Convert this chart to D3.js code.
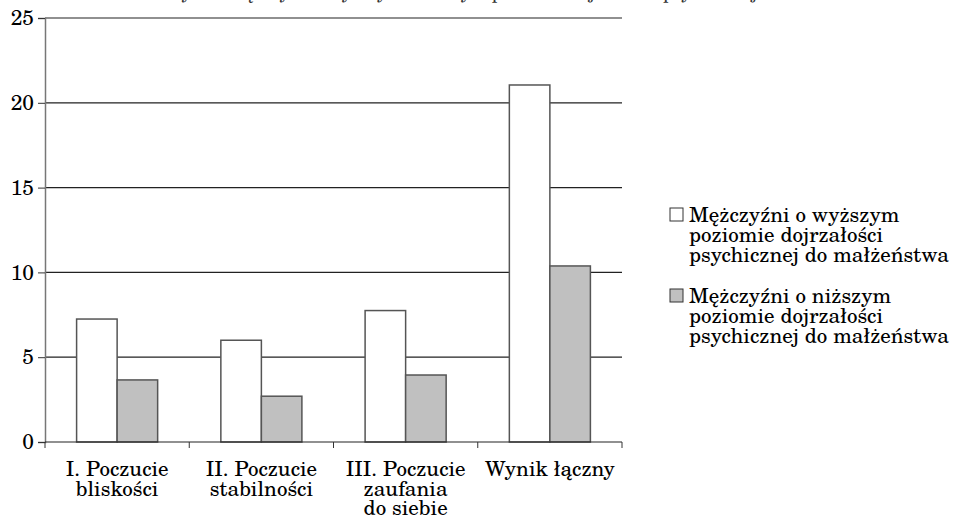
<!DOCTYPE html>
<html>
<head>
<meta charset="utf-8">
<script src="https://cdn.jsdelivr.net/npm/d3@7"></script>
<style>
  body { margin: 0; background: #fff; }
</style>
</head>
<body>
<svg id="chart"></svg>
<script>
const categories = [
  ["I. Poczucie", "bliskości"],
  ["II. Poczucie", "stabilności"],
  ["III. Poczucie", "zaufania", "do siebie"],
  ["Wynik łączny"]
]
const higherMaturity = [7.25, 6.0, 7.75, 21.05]
const lowerMaturity = [3.66, 2.7, 3.95, 10.38]
const seriesNames = [
  ["Mężczyźni o wyższym", "poziomie dojrzałości", "psychicznej do małżeństwa"],
  ["Mężczyźni o niższym", "poziomie dojrzałości", "psychicznej do małżeństwa"]
]
const seriesFill = ["#ffffff", "#c0c0c0"]
const yTicks = [0, 5, 10, 15, 20, 25]
const title = "Średnie wyniki mężczyzn o wyższym i niższym poziomie dojrzałości psychicznej do małżeństwa"

const FONT = '"TeX Gyre Schola", "DejaVu Serif", serif'
const width = 956
const height = 518
const svg = d3.select("#chart").attr("width", width).attr("height", height)

const margin = { left: 45, right: 622, top: 18, bottom: 442 }

const x = d3.scaleBand()
  .domain(d3.range(categories.length))
  .range([margin.left, margin.right])

const inner = d3.scaleBand()
  .domain([0, 1])
  .range([0, x.bandwidth()])
  .paddingOuter(0.78)

const y = d3.scaleLinear()
  .domain([0, 25])
  .range([margin.bottom, margin.top])

// title, cut off at the top edge as in the source
svg.append("text")
  .attr("x", 492)
  .attr("y", -1)
  .attr("text-anchor", "middle")
  .attr("font-family", FONT)
  .attr("font-size", 18)
  .attr("fill", "#333")
  .text(title)

// gridlines
svg.append("g")
  .selectAll("line")
  .data(yTicks.filter(d => d > 0))
  .join("line")
  .attr("x1", margin.left)
  .attr("x2", margin.right)
  .attr("y1", d => y(d))
  .attr("y2", d => y(d))
  .attr("stroke", "#222")
  .attr("stroke-width", 1.2)

// y axis
svg.append("g")
  .attr("transform", `translate(${margin.left},0)`)
  .call(d3.axisLeft(y).tickValues(yTicks).tickSize(7).tickPadding(4))
  .call(g => g.select(".domain").attr("stroke", "#777").attr("stroke-width", 1.5))
  .call(g => g.selectAll(".tick line").attr("stroke", "#333"))
  .call(g => g.selectAll(".tick text")
    .attr("font-family", FONT)
    .attr("font-size", 21)
    .attr("fill", "#000"))

// bars
const groups = svg.append("g")
  .selectAll("g")
  .data(categories.map((c, i) => [higherMaturity[i], lowerMaturity[i]]))
  .join("g")
  .attr("transform", (d, i) => `translate(${x(i)},0)`)

groups.selectAll("rect")
  .data(d => d)
  .join("rect")
  .attr("x", (d, j) => inner(j))
  .attr("width", inner.bandwidth())
  .attr("y", d => y(d))
  .attr("height", d => y(0) - y(d))
  .attr("fill", (d, j) => seriesFill[j])
  .attr("stroke", "#555")
  .attr("stroke-width", 1.5)

// x axis line and category ticks
svg.append("line")
  .attr("x1", margin.left)
  .attr("x2", margin.right)
  .attr("y1", margin.bottom)
  .attr("y2", margin.bottom)
  .attr("stroke", "#222")
  .attr("stroke-width", 1.2)

svg.append("g")
  .selectAll("line")
  .data(d3.range(categories.length + 1))
  .join("line")
  .attr("x1", i => i < categories.length ? x(i) : margin.right)
  .attr("x2", i => i < categories.length ? x(i) : margin.right)
  .attr("y1", margin.bottom)
  .attr("y2", margin.bottom + 6)
  .attr("stroke", "#333")

// category labels
svg.append("g")
  .selectAll("text")
  .data(categories)
  .join("text")
  .attr("text-anchor", "middle")
  .attr("font-family", FONT)
  .attr("font-size", 21)
  .attr("transform", (d, i) => `translate(${x(i) + x.bandwidth() / 2},${margin.bottom + 34})`)
  .selectAll("tspan")
  .data(d => d)
  .join("tspan")
  .attr("x", 0)
  .attr("dy", (d, k) => k === 0 ? 0 : 19.5)
  .text(d => d)

// legend
const legend = svg.append("g")
  .selectAll("g")
  .data(seriesNames)
  .join("g")
  .attr("transform", (d, i) => `translate(670,${208 + i * 81})`)

legend.append("rect")
  .attr("width", 13)
  .attr("height", 13)
  .attr("fill", (d, i) => seriesFill[i])
  .attr("stroke", "#333")

legend.append("text")
  .attr("font-family", FONT)
  .attr("font-size", 21)
  .attr("transform", "translate(19,14)")
  .selectAll("tspan")
  .data(d => d)
  .join("tspan")
  .attr("x", 0)
  .attr("dy", (d, k) => k === 0 ? 0 : 20)
  .text(d => d)
</script>
</body>
</html>
